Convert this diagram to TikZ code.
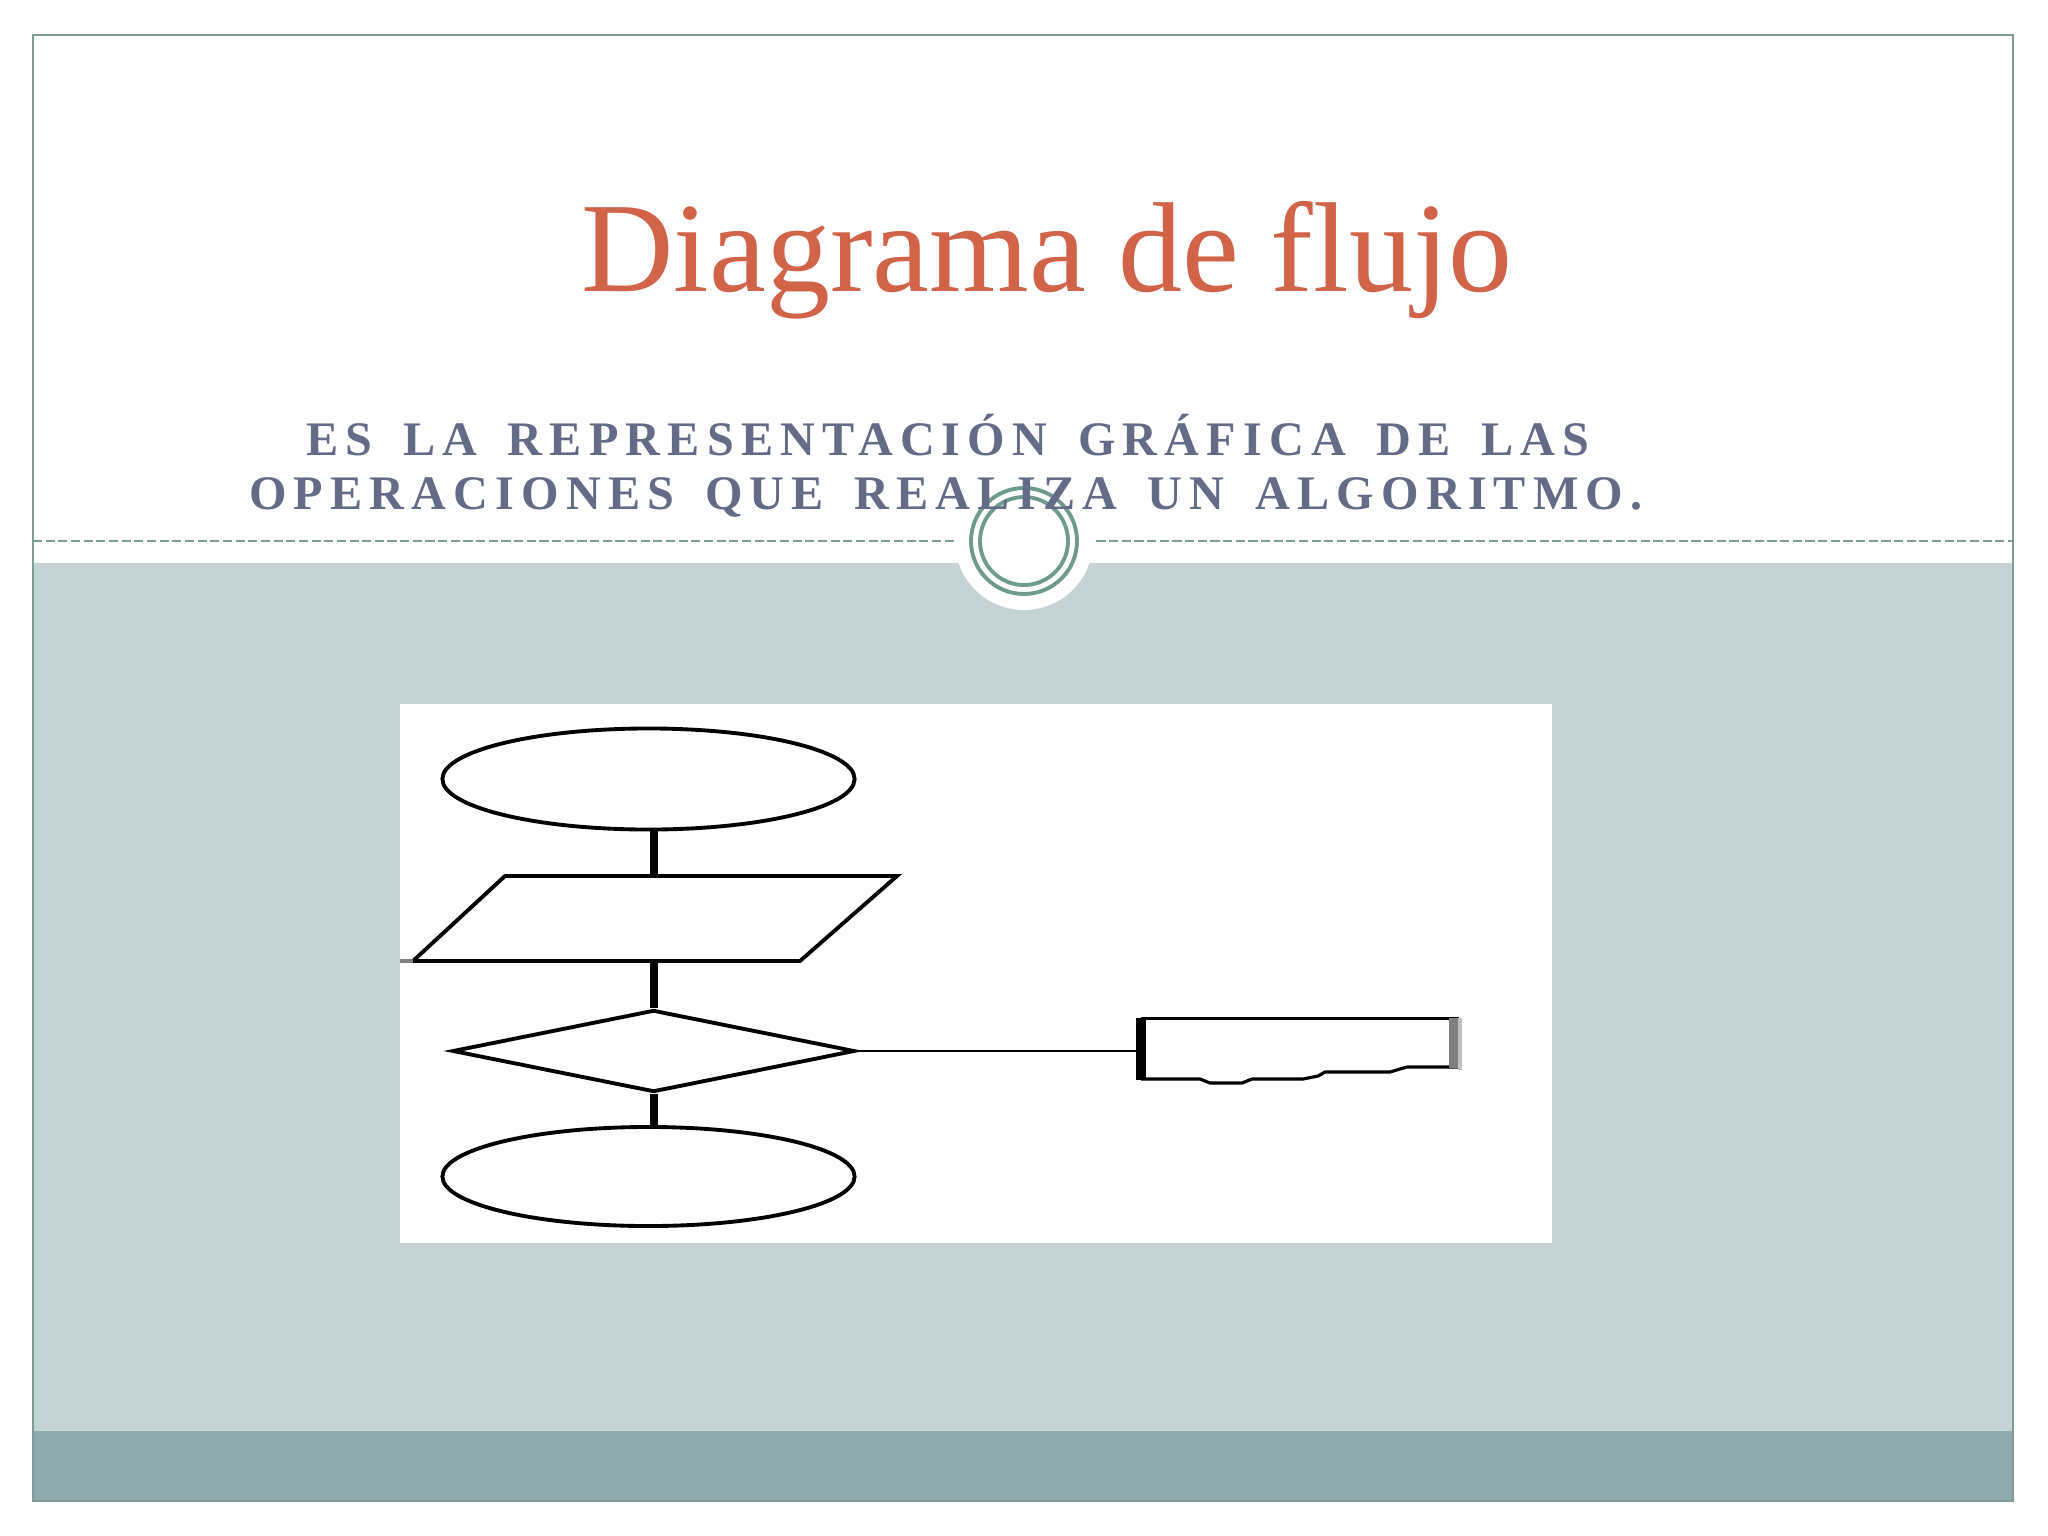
\documentclass[tikz,border=0pt]{standalone}
\usepackage{fontspec}
\setmainfont{Liberation Serif}
\newfontfamily\subfont[LetterSpace=14.9,WordSpace=1.6]{Liberation Serif}
\usetikzlibrary{shapes.geometric,positioning}
\definecolor{titlered}{HTML}{D16349}
\definecolor{subslate}{HTML}{646B86}
\definecolor{bandlight}{HTML}{C4D2D4}
\definecolor{banddark}{HTML}{8EAAAD}
\definecolor{framegreen}{HTML}{7E9C96}
\definecolor{ringgreen}{HTML}{6F9A8E}

\begin{document}
\begin{tikzpicture}[x=0.01cm,y=-0.01cm,
    outline/.style={draw=black,line width=1.1pt,inner sep=0pt},
    flowline/.style={line width=2.3pt}]
        \useasboundingbox (0,0) rectangle (2048,1536);
        \fill[white] (0,0) rectangle (2048,1536);
        %fondo de la diapositiva
        \fill[bandlight] (33,563) rectangle (2013,1431);
        \fill[banddark] (33,1431) rectangle (2013,1501);
        \draw[framegreen,line width=0.6pt] (33,35) rectangle (2013,1501);
        \draw[framegreen,line width=0.55pt,dash pattern=on 2.6pt off 1pt] (33,541) -- (2013,541);
        %adorno circular
        \fill[white] (1024,541) circle (69);
        \draw[ringgreen,line width=1.1pt] (1024,541) circle (53);
        \draw[ringgreen,line width=1.1pt] (1024,541) circle (44);
        %titulos
        \node[anchor=base,inner sep=0pt,text=titlered,font=\fontsize{36.4}{40}\selectfont] (titulo) at (1047,291) {Diagrama de flujo};
        \node[anchor=base,inner sep=0pt,text=subslate,font=\subfont\bfseries\fontsize{13.7}{16}\selectfont] (linea1) at (948,455) {ES LA REPRESENTACIÓN GRÁFICA DE LAS};
        \node[anchor=base,inner sep=0pt,text=subslate,font=\subfont\bfseries\fontsize{13.7}{16}\selectfont] (linea2) at (946,509) {OPERACIONES QUE REALIZA UN ALGORITMO.};
        %imagen del diagrama
        \fill[white] (400,704) rectangle (1552,1243);
        \node[outline,ellipse,minimum width=4.12cm,minimum height=1.01cm] (inicio) at (648.5,779) {};
        %paralelogramo de entrada
        \coordinate (entrada-n) at (653.6,876);
        \coordinate (entrada-s) at (653.6,961);
        \draw[line width=1.1pt,line join=miter] (413,961) -- (505,876) -- (897,876) -- (800,961) -- cycle;
        \draw[gray,line width=1.1pt] (400,961) -- (413,961);
        \node[outline,diamond,minimum width=4.02cm,minimum height=0.82cm] (decision) at (653.6,1051) {};
        \node[outline,ellipse,minimum width=4.12cm,minimum height=0.99cm] (fin) at (648.5,1176.5) {};
        \node[inner sep=0pt,minimum width=3.16cm,minimum height=0.6cm] (proceso) at (1300,1049) {};
        \draw[flowline] (inicio.south -| entrada-n) -- (entrada-n);
        \draw[flowline] (entrada-s) -- (decision.north);
        \draw[flowline] (decision.south) -- (fin.north -| decision.south);
        \draw[line width=0.8pt] (decision.east) -- (decision.east -| proceso.west);
        %caja del proceso (borde inferior irregular)
        \draw[line width=0.9pt] (proceso.north west) -- (proceso.north east);
        \draw[line width=0.9pt] (proceso.west |- 0,1079) -- (1200,1079) -- (1210,1083) -- (1242,1083)
            -- (1252,1079) -- (1303,1079) -- (1318,1076) -- (1325,1072) -- (1390,1072)
            -- (1400,1069) -- (1407,1067) -- (proceso.east |- 0,1067);
        \draw[line width=2.8pt] (proceso.north west) -- (proceso.west |- 0,1080);
        \draw[gray,line width=2.6pt] (1454,1018) -- (1454,1068);
        \draw[gray!50,line width=1pt] (1460,1018) -- (1460,1070);
\end{tikzpicture}
\end{document}
